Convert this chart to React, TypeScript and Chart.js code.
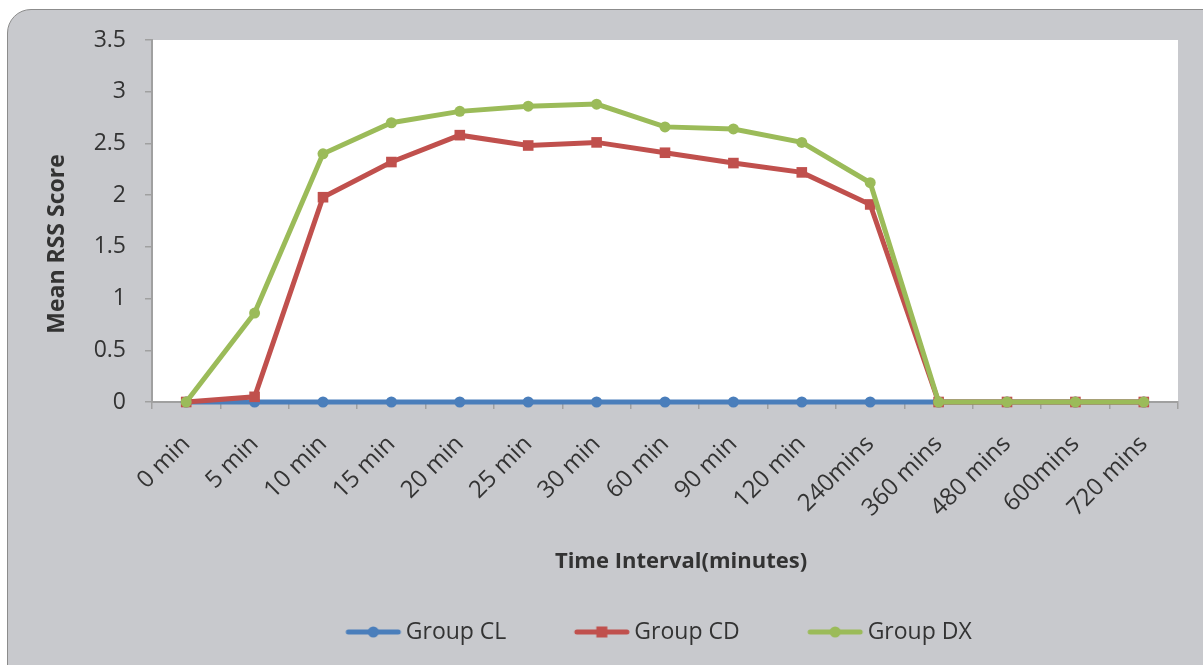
import React, { useEffect, useRef } from "react";
import { Chart, registerables } from "chart.js";

Chart.register(...registerables);

const categories = [
  "0 min", "5 min", "10 min", "15 min", "20 min", "25 min", "30 min",
  "60 min", "90 min", "120 min", "240mins", "360 mins", "480 mins", "600mins", "720 mins",
];
const groupCL = [0, 0, 0, 0, 0, 0, 0, 0, 0, 0, 0, 0, 0, 0, 0];
const groupCD = [0, 0.05, 1.98, 2.32, 2.58, 2.48, 2.51, 2.41, 2.31, 2.22, 1.91, 0, 0, 0, 0];
const groupDX = [0, 0.86, 2.4, 2.7, 2.81, 2.86, 2.88, 2.66, 2.64, 2.51, 2.12, 0, 0, 0, 0];
const seriesNames = ["Group CL", "Group CD", "Group DX"];
const yMin = 0;
const yMax = 3.5;
const yStep = 0.5;

const BLUE = "#4a7ebb";
const RED = "#c0504d";
const GREEN = "#9bbb59";
const FONT = "'Open Sans', 'Liberation Sans', sans-serif";

function makeIcon(color: string, shape: "circle" | "rect") {
  const c = document.createElement("canvas");
  c.width = 114;
  c.height = 16;
  const ctx = c.getContext("2d")!;
  ctx.strokeStyle = color;
  ctx.lineWidth = 5;
  ctx.lineCap = "round";
  ctx.beginPath();
  ctx.moveTo(29, 8);
  ctx.lineTo(79, 8);
  ctx.stroke();
  ctx.fillStyle = color;
  const cx = 54;
  if (shape === "circle") {
    ctx.beginPath();
    ctx.arc(cx, 8, 5.5, 0, Math.PI * 2);
    ctx.fill();
  } else {
    ctx.fillRect(cx - 5.5, 2.5, 11, 11);
  }
  return c;
}

function shiftTitle(scale: any, dx: number, dy: number) {
  if (scale.__shifted) return;
  const orig = scale.drawTitle.bind(scale);
  scale.drawTitle = () => {
    scale.left += dx; scale.right += dx; scale.top += dy; scale.bottom += dy;
    try { orig(); } finally {
      scale.left -= dx; scale.right -= dx; scale.top -= dy; scale.bottom -= dy;
    }
  };
  scale.__shifted = true;
}

export default function App() {
  const ref = useRef<HTMLCanvasElement>(null);

  useEffect(() => {
    if (!ref.current) return;
    const icons = [makeIcon(BLUE, "circle"), makeIcon(RED, "rect"), makeIcon(GREEN, "circle")];
    const colors = [BLUE, RED, GREEN];

    const plotBg = {
      id: "plotBg",
      beforeDraw(chart: any) {
        const { ctx, chartArea } = chart;
        ctx.save();
        ctx.fillStyle = "#ffffff";
        ctx.fillRect(chartArea.left, chartArea.top, chartArea.right - chartArea.left, chartArea.bottom - chartArea.top);
        ctx.restore();
      },
    };

    // axis titles sit slightly off-centre in the original layout
    const titleShift = {
      id: "titleShift",
      afterLayout(chart: any) {
        shiftTitle(chart.scales.y, 0, 23);
        shiftTitle(chart.scales.x, 16, 0);
      },
    };

    const mk = (i: number, data: number[], style: string, radius: number, order: number) => ({
      label: seriesNames[i],
      data,
      borderColor: colors[i],
      backgroundColor: colors[i],
      borderWidth: 5,
      pointStyle: style,
      pointRadius: radius,
      pointBorderWidth: 0,
      pointBackgroundColor: colors[i],
      tension: 0,
      clip: 12,
      order,
    });

    const chart = new Chart(ref.current, {
      type: "line",
      data: {
        labels: categories,
        datasets: [
          mk(0, groupCL, "circle", 5.5, 3),
          mk(1, groupCD, "rect", 7.5, 2),
          mk(2, groupDX, "circle", 5.5, 1),
        ],
      },
      options: {
        animation: false,
        responsive: false,
        devicePixelRatio: 1,
        layout: { padding: { left: 34, right: 25, top: 40, bottom: 11.5 } },
        plugins: {
          tooltip: { enabled: false },
          legend: {
            position: "bottom",
            fullSize: false,
            labels: {
              usePointStyle: true,
              pointStyleWidth: 36,
              padding: 80.5,
              color: "#333333",
              font: { family: FONT, size: 23 },
              sort: (a: any, b: any) => a.datasetIndex - b.datasetIndex,
              generateLabels: () =>
                seriesNames.map((n, i) => ({
                  text: n,
                  datasetIndex: i,
                  pointStyle: icons[i],
                  fillStyle: "transparent",
                  strokeStyle: "transparent",
                  lineWidth: 0,
                  hidden: false,
                  fontColor: "#333333",
                })),
            },
          },
        },
        scales: {
          x: {
            type: "category",
            offset: true,
            grid: {
              offset: true,
              display: true,
              drawOnChartArea: false,
              drawTicks: true,
              tickLength: 7,
              color: "#a0a0a0",
              lineWidth: 1.5,
            },
            border: { display: true, color: "#a0a0a0", width: 2 },
            ticks: {
              minRotation: 45,
              maxRotation: 45,
              autoSkip: false,
              padding: 21,
              color: "#333333",
              font: { family: FONT, size: 24 },
            },
            title: {
              display: true,
              text: "Time Interval(minutes)",
              color: "#333333",
              font: { family: FONT, size: 22, weight: "bold" },
              padding: { top: 0, bottom: -35.2 },
            },
            afterFit: (s: any) => {
              s.height = 138;
            },
          },
          y: {
            min: yMin,
            max: yMax,
            grid: {
              display: true,
              drawOnChartArea: false,
              drawTicks: true,
              tickLength: 7,
              color: "#a0a0a0",
              lineWidth: 1.5,
            },
            border: { display: true, color: "#a0a0a0", width: 2 },
            ticks: {
              stepSize: yStep,
              padding: 19,
              color: "#333333",
              font: { family: FONT, size: 23 },
              callback: (v: any) => String(Number(v)),
            },
            title: {
              display: true,
              text: "Mean RSS Score",
              color: "#333333",
              font: { family: FONT, size: 23, weight: "bold" },
              padding: { top: 10, bottom: 0 },
            },
            afterFit: (s: any) => {
              s.width = 152 - 34;
            },
          },
        },
      },
      plugins: [plotBg, titleShift],
    } as any);

    return () => chart.destroy();
  }, []);

  return (
    <div style={{ position: "fixed", left: 0, top: 0, width: 1203, height: 665, overflow: "hidden", background: "#ffffff" }}>
      <div
        style={{
          position: "absolute",
          left: 7,
          top: 9,
          width: 1240,
          height: 700,
          background: "#c8c9cd",
          border: "1.5px solid #8c8c8c",
          borderRadius: 24,
        }}
      />
      <canvas ref={ref} width={1203} height={665} style={{ position: "absolute", left: 0, top: 0, width: 1203, height: 665 }} />
    </div>
  );
}
